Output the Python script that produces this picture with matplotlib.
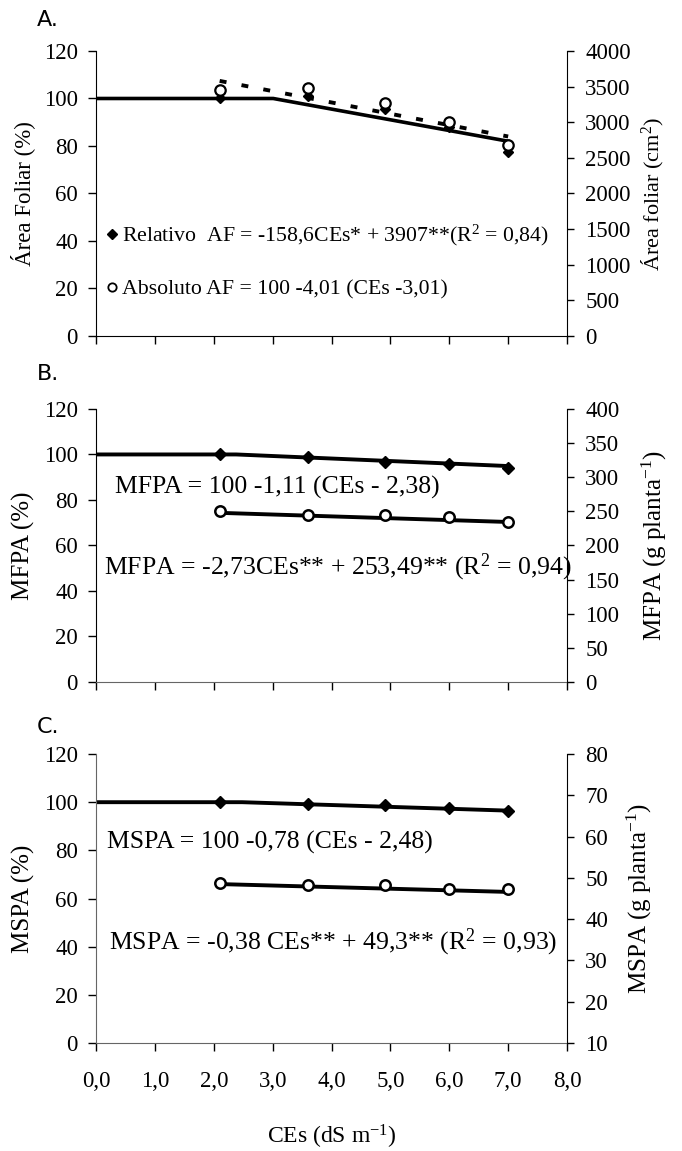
import matplotlib
matplotlib.use("Agg")
import matplotlib.pyplot as plt
from matplotlib.lines import Line2D

plt.rcParams["font.family"] = ["Liberation Serif", "DejaVu Serif"]
plt.rcParams["mathtext.fontset"] = "custom"
plt.rcParams["mathtext.rm"] = "Liberation Serif"
plt.rcParams["mathtext.it"] = "Liberation Serif:italic"
plt.rcParams["lines.scale_dashes"] = False

# salinity levels (CEs, dS m-1)
ces = [2.1, 3.6, 4.9, 6.0, 7.0]
xticks = [0, 1, 2, 3, 4, 5, 6, 7, 8]
xticklabels = ["0,0", "1,0", "2,0", "3,0", "4,0", "5,0", "6,0", "7,0", "8,0"]

# A - area foliar
af_rel = [100, 101, 95.5, 88, 77.5]
af_abs = [3450, 3480, 3270, 3010, 2680]
af_plat_x = [0, 3.01, 7.0]
af_plat_y = [100, 100, 82]
af_fit_x = [2.1, 7.0]
af_fit_y = [3580, 2800]

# B - MFPA
mfpa_rel = [100, 98.8, 96.8, 95.9, 94.2]
mfpa_abs = [251, 244, 245, 242, 235]
mfpa_plat_x = [0, 2.38, 7.0]
mfpa_plat_y = [100, 100, 94.9]
mfpa_fit_x = [2.1, 7.0]
mfpa_fit_y = [247.8, 234.4]

# C - MSPA
mspa_rel = [100, 99.2, 98.9, 97.5, 96.4]
mspa_abs = [48.7, 48.3, 48.3, 47.3, 47.2]
mspa_plat_x = [0, 2.48, 7.0]
mspa_plat_y = [100, 100, 96.5]
mspa_fit_x = [2.1, 7.0]
mspa_fit_y = [48.5, 46.6]

TICK = 16.5
EQ = 18.5


def setup(ax, ax2, ylim2, yticks2, show_x):
    ax.set_xlim(0, 8)
    ax.set_ylim(0, 120)
    ax.set_yticks(range(0, 121, 20))
    ax.set_xticks(xticks)
    if show_x:
        ax.set_xticklabels(xticklabels)
    else:
        ax.set_xticklabels([])
    ax2.set_ylim(*ylim2)
    ax2.set_yticks(yticks2)
    ax.spines["top"].set_visible(False)
    ax.spines["right"].set_visible(False)
    for s in ["top", "left", "bottom"]:
        ax2.spines[s].set_visible(False)
    ax.tick_params(axis="y", direction="out", length=6, width=1, labelsize=TICK, pad=7)
    ax.tick_params(axis="x", direction="out", length=6, width=1, labelsize=TICK, pad=14)
    ax2.tick_params(axis="y", direction="out", length=5, width=1, labelsize=TICK, pad=8)


fig = plt.figure(figsize=(6.82, 11.51), dpi=100)
axA = fig.add_axes([0.1408, 0.7081, 0.6906, 0.2476])
axB = fig.add_axes([0.1408, 0.4075, 0.6906, 0.2372])
axC = fig.add_axes([0.1408, 0.0938, 0.6906, 0.2511])
axA2 = axA.twinx()
axB2 = axB.twinx()
axC2 = axC.twinx()

setup(axA, axA2, (0, 4000), range(0, 4001, 500), False)
setup(axB, axB2, (0, 400), range(0, 401, 50), False)
setup(axC, axC2, (10, 80), range(10, 81, 10), True)

for ax in [axB, axC]:
    ax.spines["bottom"].set_color("#666666")
axC.spines["left"].set_color("#666666")

# A
axA.plot(af_plat_x, af_plat_y, color="k", lw=2.6, zorder=2)
axA.plot(ces, af_rel, ls="none", marker="D", ms=5.2, color="k", zorder=3)
axA2.plot(af_fit_x, af_fit_y, color="k", lw=2.8, dashes=(5, 11), zorder=2)
axA2.plot(ces, af_abs, ls="none", marker="o", ms=7.5, mfc="white", mec="k", mew=1.6, zorder=3)

handles = [Line2D([], [], ls="none", marker="D", ms=5, color="k"),
           Line2D([], [], ls="none", marker="o", ms=6, mfc="white", mec="k", mew=1.3)]
labels = ["Relativo  AF = -158,6CEs* + 3907**(R$^2$ = 0,84)",
          "Absoluto AF = 100 -4,01 (CEs -3,01)"]
axA2.legend(handles, labels, loc="center left", bbox_to_anchor=(0.02, 0.262),
            frameon=False, fontsize=15.7, handlelength=0.6, handletextpad=0.15,
            labelspacing=1.45, borderpad=0, borderaxespad=0)

axA.set_ylabel("Área Foliar (%)", fontsize=16.5)
axA2.set_ylabel("Área foliar (cm$^2$)", fontsize=16)

# B
axB.plot(mfpa_plat_x, mfpa_plat_y, color="k", lw=2.8, zorder=2)
axB.plot(ces, mfpa_rel, ls="none", marker="D", ms=6.5, color="k", zorder=3)
axB2.plot(mfpa_fit_x, mfpa_fit_y, color="k", lw=2.8, zorder=2)
axB2.plot(ces, mfpa_abs, ls="none", marker="o", ms=7.5, mfc="white", mec="k", mew=1.8, zorder=3)
axB.text(0.32, 85.5, "MFPA = 100 -1,11 (CEs - 2,38)", va="center", fontsize=EQ)
axB.text(0.13, 50.3, "MFPA = -2,73CEs** + 253,49** (R$^2$ = 0,94)", va="center", fontsize=EQ)
axB.set_ylabel("MFPA (%)", fontsize=18)
axB2.set_ylabel("MFPA (g planta$^{-1}$)", fontsize=18)

# C
axC.plot(mspa_plat_x, mspa_plat_y, color="k", lw=2.8, zorder=2)
axC.plot(ces, mspa_rel, ls="none", marker="D", ms=6.5, color="k", zorder=3)
axC2.plot(mspa_fit_x, mspa_fit_y, color="k", lw=2.8, zorder=2)
axC2.plot(ces, mspa_abs, ls="none", marker="o", ms=7.5, mfc="white", mec="k", mew=1.8, zorder=3)
axC.text(0.18, 83.4, "MSPA = 100 -0,78 (CEs - 2,48)", va="center", fontsize=EQ)
axC.text(0.22, 42, "MSPA = -0,38 CEs** + 49,3** (R$^2$ = 0,93)", va="center", fontsize=EQ)
axC.set_ylabel("MSPA (%)", fontsize=18)
axC2.set_ylabel("MSPA (g planta$^{-1}$)", fontsize=18)
axC.set_xlabel("CEs (dS m$^{-1}$)", fontsize=17)
axC.xaxis.set_label_coords(0.5, -0.275)

for ax in [axA, axB, axC]:
    ax.yaxis.set_label_coords(-0.13, 0.5)
axA2.yaxis.set_label_coords(1.155, 0.5)
axB2.yaxis.set_label_coords(1.154, 0.5)
axC2.yaxis.set_label_coords(1.123, 0.5)

# panel letters
for letter, ypix in [("A.", 20), ("B.", 374), ("C.", 727)]:
    fig.text(37 / 682, 1 - ypix / 1151, letter, family="DejaVu Sans",
             fontsize=16, va="center", ha="left")

fig.savefig("out.png", dpi=100)
